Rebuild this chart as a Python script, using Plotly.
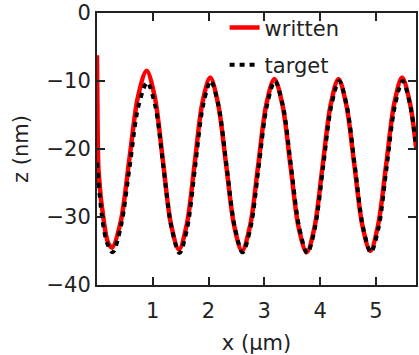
import plotly.graph_objects as go

# written (red) profile, x in um, z in nm
written_x = [0.0, 0.01, 0.03, 0.12, 0.20, 0.27, 0.425, 0.58, 0.735, 0.89,
             1.035, 1.18, 1.325, 1.47, 1.61, 1.75, 1.89, 2.03,
             2.17, 2.315, 2.46, 2.60, 2.745, 2.89, 3.035, 3.18,
             3.325, 3.47, 3.615, 3.76, 3.90, 4.045, 4.19, 4.33,
             4.47, 4.615, 4.76, 4.90, 5.04, 5.185, 5.33, 5.47,
             5.61, 5.72]
written_z = [-6.2, -16.0, -23.5, -30.5, -33.8, -34.5, -30.7, -21.5, -12.3, -8.5,
             -12.3, -21.6, -31.0, -34.8, -31.1, -22.2, -13.2, -9.5,
             -13.3, -22.3, -31.3, -35.0, -31.3, -22.4, -13.5, -9.7,
             -13.5, -22.5, -31.5, -35.2, -31.5, -22.5, -13.5, -9.7,
             -13.5, -22.4, -31.3, -35.0, -31.2, -22.3, -13.3, -9.5,
             -13.2, -19.7]

# target (black dashed) profile
target_x = [0.0, 0.09, 0.18, 0.28, 0.43, 0.585, 0.74, 0.90,
            1.045, 1.19, 1.335, 1.48, 1.62, 1.76, 1.90, 2.04,
            2.18, 2.325, 2.47, 2.61, 2.755, 2.90, 3.045, 3.19,
            3.335, 3.48, 3.625, 3.77, 3.91, 4.055, 4.20, 4.34,
            4.48, 4.625, 4.77, 4.91, 5.05, 5.195, 5.34, 5.48,
            5.62, 5.72]
target_z = [-22.0, -30.0, -33.8, -35.2, -31.3, -22.6, -13.8, -10.2,
            -13.7, -22.6, -31.5, -35.3, -31.5, -22.6, -13.7, -10.0,
            -13.7, -22.6, -31.5, -35.2, -31.5, -22.6, -13.7, -10.0,
            -13.7, -22.6, -31.5, -35.3, -31.5, -22.6, -13.7, -10.0,
            -13.7, -22.6, -31.5, -35.2, -31.5, -22.6, -13.7, -10.0,
            -13.7, -19.8]

x_ticks = [1, 2, 3, 4, 5]
y_ticks = [0, -10, -20, -30, -40]

FONT = "DejaVu Sans"
TXT = "#222222"

fig = go.Figure()
fig.add_trace(go.Scatter(
    x=written_x, y=written_z, mode="lines", name="written",
    line=dict(color="#ff0000", width=4.5, shape="spline", smoothing=0.9),
    legendgroup="a"))
fig.add_trace(go.Scatter(
    x=target_x, y=target_z, mode="lines", name="target",
    line=dict(color="#000000", width=4, dash="5px,5px", shape="spline", smoothing=0.9),
    legendgroup="b"))

axis_common = dict(
    showline=True, linewidth=2, linecolor=TXT, mirror="ticks",
    ticks="inside", ticklen=8, tickwidth=2, tickcolor=TXT,
    showgrid=False, zeroline=False,
    tickfont=dict(family=FONT, size=21, color=TXT),
)

fig.update_layout(
    width=419, height=355,
    margin=dict(l=97, r=1, t=13, b=70),
    paper_bgcolor="white", plot_bgcolor="white",
    font=dict(family=FONT, size=21, color=TXT),
    showlegend=True,
    legend=dict(x=0.40, y=1.021, xanchor="left", yanchor="top",
                bgcolor="rgba(0,0,0,0)", borderwidth=0,
                traceorder="grouped", tracegroupgap=7, itemwidth=30,
                font=dict(family=FONT, size=21, color=TXT)),
    xaxis=dict(range=[0, 5.72], tickvals=x_ticks, ticklabelstandoff=6,
               title=dict(text="x (µm)", standoff=14,
                          font=dict(family=FONT, size=21, color=TXT)),
               **axis_common),
    yaxis=dict(range=[-40, 0], tickvals=y_ticks,
               title=dict(text="z (nm)", standoff=12,
                          font=dict(family=FONT, size=21, color=TXT)),
               **axis_common),
)

fig.write_html("out.html")
